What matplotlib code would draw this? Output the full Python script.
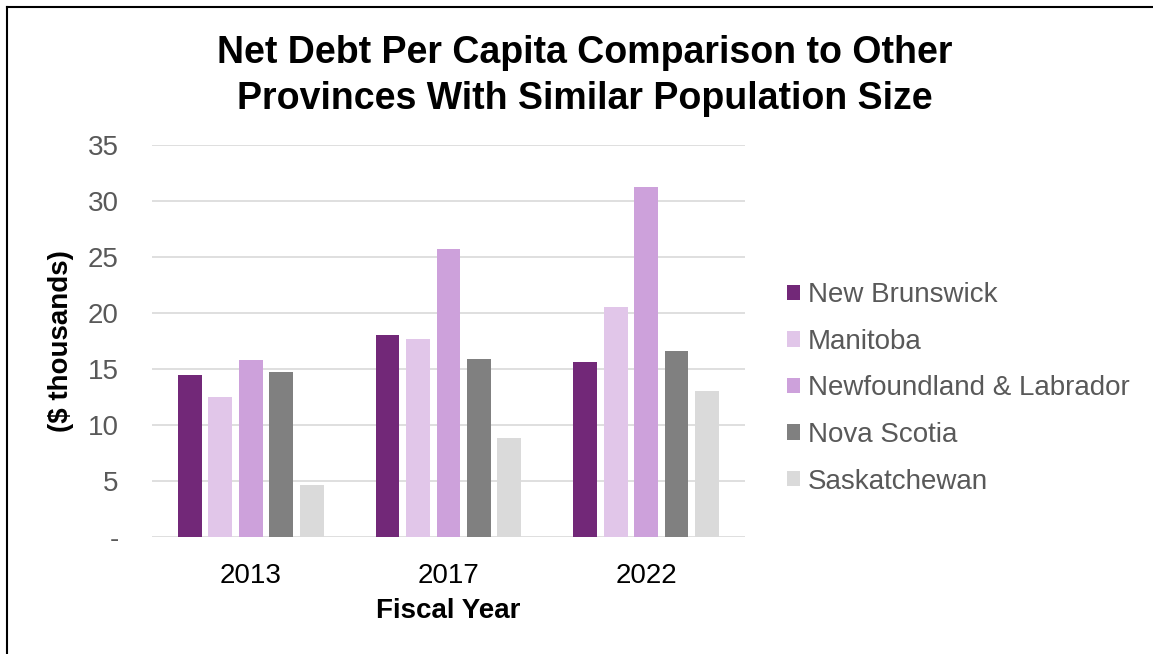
import numpy as np
import matplotlib
matplotlib.use('Agg')
from matplotlib import pyplot as plt
from matplotlib.lines import Line2D

plt.rcParams['font.family'] = ['Liberation Sans', 'DejaVu Sans']

# Данные: чистый долг на душу населения, тыс. $
years = ['2013', '2017', '2022']
provinces = ['New Brunswick', 'Manitoba', 'Newfoundland & Labrador', 'Nova Scotia', 'Saskatchewan']
new_brunswick = [14.5, 18.05, 15.6]
manitoba = [12.5, 17.65, 20.55]
newfoundland = [15.8, 25.75, 31.25]
nova_scotia = [14.75, 15.85, 16.65]
saskatchewan = [4.6, 8.85, 13.05]
colors = ['#722878', '#e1c6e9', '#cda1db', '#808080', '#dadada']

series = [new_brunswick, manitoba, newfoundland, nova_scotia, saskatchewan]

fig = plt.figure(figsize=(11.53, 6.54), dpi=100)
ax = fig.add_axes([0.1318, 0.1789, 0.5143, 0.5994])

x = np.arange(len(years))
pitch = 0.154
width = 0.12
for i in range(len(series)):
    offset = (i - 2) * pitch
    ax.bar(x + offset, series[i], width, color=colors[i], label=provinces[i], zorder=3)

ax.set_xlim(-0.5, 2.5)
ax.set_ylim(0, 35)
ax.set_yticks(range(0, 36, 5))
ax.set_yticklabels(['-'] + [str(v) for v in range(5, 36, 5)])
ax.set_xticks(x)
ax.set_xticklabels(years)
ax.grid(axis='y', color='#d9d9d9', linewidth=1.2, zorder=0)
for s in ax.spines.values():
    s.set_visible(False)
ax.tick_params(axis='y', length=0, pad=24, labelsize=20, labelcolor='#595959')
ax.tick_params(axis='x', length=0, pad=19, labelsize=20, labelcolor='#000000')

ax.set_xlabel('Fiscal Year', fontsize=20, fontweight='bold', labelpad=6)
ax.set_ylabel('($ thousands)', fontsize=20, fontweight='bold', labelpad=10)

fig.text(0.507, 0.884, 'Net Debt Per Capita Comparison to Other\nProvinces With Similar Population Size',
         ha='center', va='center', fontsize=27, fontweight='bold', linespacing=1.38)

leg = ax.legend(loc='center left', bbox_to_anchor=(0.6826, 0.406), bbox_transform=fig.transFigure,
                frameon=False, fontsize=20, handlelength=0.48, handleheight=0.48,
                handletextpad=0.27, labelspacing=0.74, borderaxespad=0, borderpad=0)
for t in leg.get_texts():
    t.set_color('#595959')

# Рамка слева и сверху
fig.add_artist(Line2D([7 / 1153, 7 / 1153], [0, 1 - 7 / 654], transform=fig.transFigure, color='black', linewidth=1.5))
fig.add_artist(Line2D([7 / 1153, 1], [1 - 7 / 654, 1 - 7 / 654], transform=fig.transFigure, color='black', linewidth=1.5))

fig.savefig('out.png', dpi=100)
